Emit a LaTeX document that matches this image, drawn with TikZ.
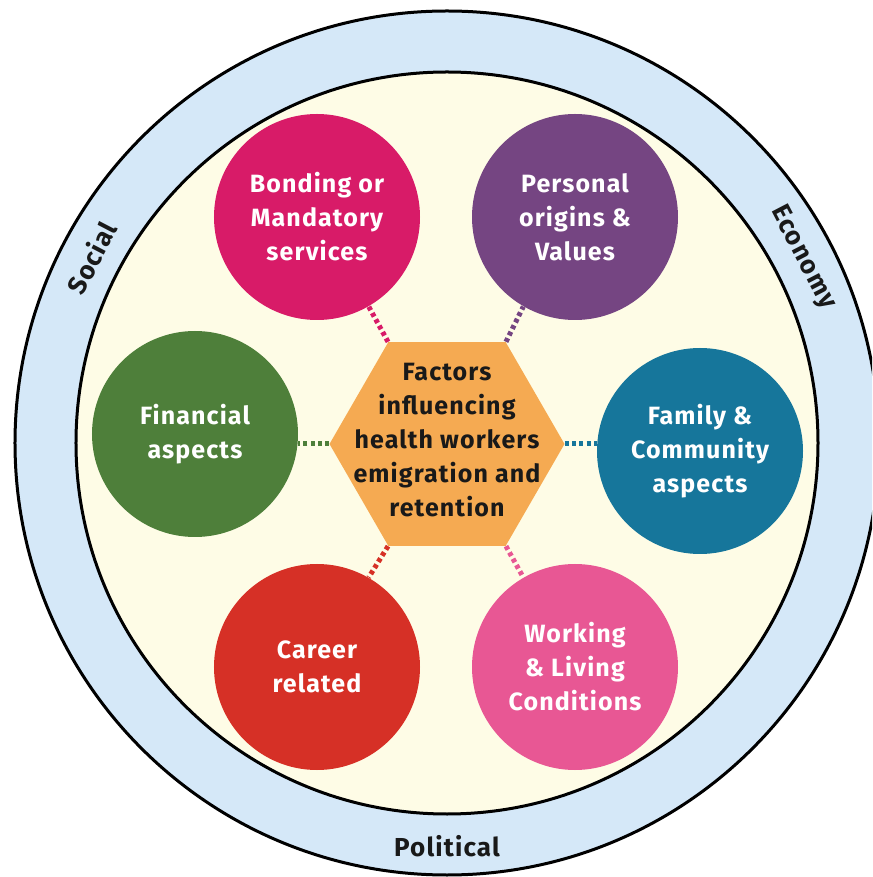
\documentclass[tikz,border=0pt]{standalone}
\usepackage{fontspec}
\setmainfont{Fira Sans}[LetterSpace=4.5]
\usetikzlibrary{shapes.geometric}
\definecolor{ringblue}{RGB}{213,232,248}
\definecolor{cream}{RGB}{254,252,230}
\definecolor{hexorange}{RGB}{245,170,82}
\definecolor{bondmag}{RGB}{216,27,104}
\definecolor{persvio}{RGB}{117,69,130}
\definecolor{fingreen}{RGB}{78,127,58}
\definecolor{famteal}{RGB}{22,118,155}
\definecolor{carred}{RGB}{214,48,38}
\definecolor{workpink}{RGB}{232,87,148}

\begin{document}
\begin{tikzpicture}[x=0.5pt, y=0.5pt, font=\bfseries\fontsize{12.5}{17}\selectfont,
  f/.style={circle, minimum size=103pt, inner sep=0pt, align=center, text=white},
  hex/.style={regular polygon, regular polygon sides=6, minimum size=117.5pt, inner sep=0pt, fill=hexorange},
  dots/.style={line width=2.5pt, dash pattern=on 2pt off 1.6pt},
  ring/.style={font=\bfseries\fontsize{13}{15}\selectfont, text=black!90}]
  \useasboundingbox (-447,-434) rectangle (425,443);
  \clip (-447,-434) rectangle (425,443);
  % outer ring and inner disc
  \fill[ringblue] (0,0) circle (432);
  \draw[line width=1.5pt] (0,0) circle (432);
  \filldraw[fill=cream, line width=1.5pt] (0,0) circle (371);
  \node[ring, rotate=62.5] (social) at (152.5:401) {Social};
  \node[ring, rotate=-62.5] (econ) at (27.5:401) {Economy};
  \node[ring] (pol) at (-90:403) {Political};
  % centre hexagon
  \node[hex] (hub) at (0,-1) {};
  \node[align=center, text=black!90] (hubtxt) at (0,3) {Factors\\influencing\\health workers\\emigration and\\retention};
  % factor circles
  \node[f, fill=bondmag] (bond) at (-130,226) {Bonding or\\Mandatory\\services};
  \node[f, fill=persvio] (pers) at (128,226) {Personal\\origins \&\\Values};
  \node[f, fill=fingreen] (fin) at (-252,9) {Financial\\aspects};
  \node[f, fill=famteal] (fam) at (253,-8) {Family \&\\Community\\aspects};
  \node[f, fill=carred] (car) at (-130,-224) {Career\\related};
  \node[f, fill=workpink] (work) at (128,-224) {Working\\\& Living\\Conditions};
  \draw[dots, bondmag] (hub.120) -- (bond.-60);
  \draw[dots, persvio] (hub.60) -- (pers.-120);
  \draw[dots, fingreen] (hub.180) -- (fin.east |- hub.180);
  \draw[dots, famteal] (hub.0) -- (fam.west |- hub.0);
  \draw[dots, carred] (hub.-120) -- (car.60);
  \draw[dots, workpink] (hub.-60) -- (work.120);
\end{tikzpicture}
\end{document}
